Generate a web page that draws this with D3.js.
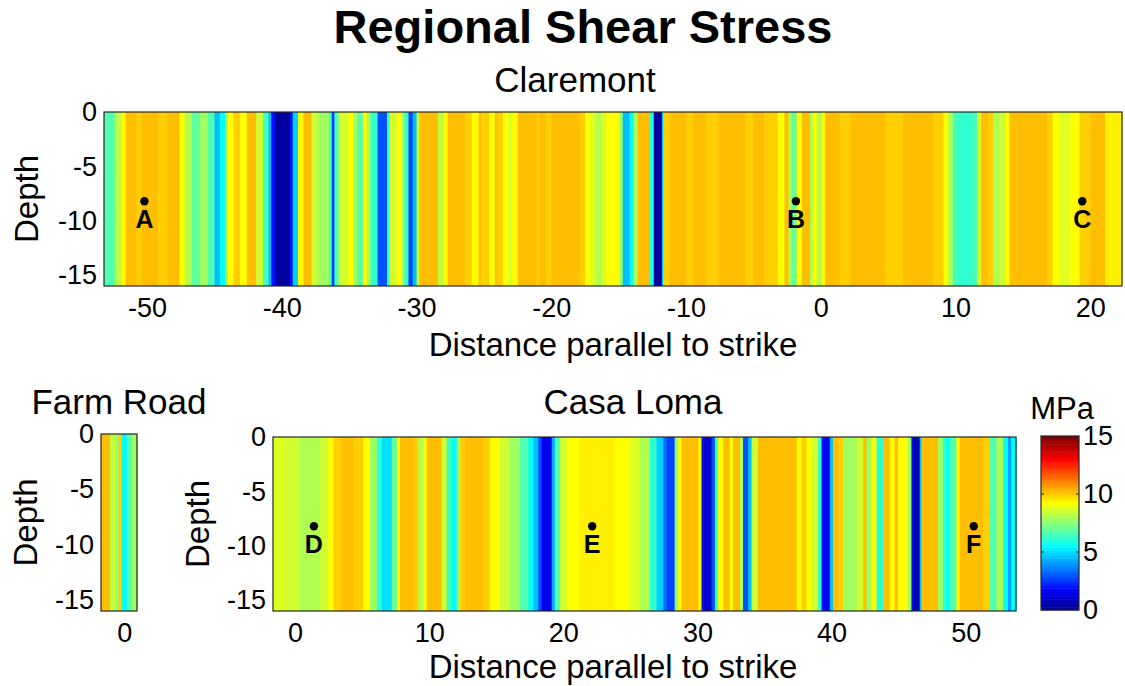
<!DOCTYPE html>
<html>
<head>
<meta charset="utf-8">
<script src="https://cdn.jsdelivr.net/npm/d3@7"></script>
<style>
  body { margin: 0; background: #fff; }
  svg { display: block; }
  text { font-family: "Liberation Sans", Arial, Helvetica, sans-serif; fill: #000; }
</style>
</head>
<body>
<svg id="chart" width="1125" height="686"></svg>
<script>
// ---- Shear stress (MPa) along strike; each stripe starts at the given distance (km) ----
const claremontExtent = [-53.2, 22.35];
const claremontStart = [
  -53.2, -52.4, -51.9, -51.6, -50.8, -50.4, -49.2, -48.5, -47.6, -47.2,
  -46.7, -46.1, -45.5, -45.0, -44.6, -44.2, -44.0, -43.6, -43.1, -42.6,
  -41.9, -41.4, -41.0, -40.8, -40.5, -39.4, -39.2, -38.8, -38.4, -37.8,
  -37.3, -36.5, -36.3, -36.1, -35.8, -35.1, -34.7, -34.4, -34.0, -33.7,
  -33.4, -32.9, -32.2, -32.0, -31.5, -31.1, -30.9, -30.6, -30.3, -30.0,
  -29.8, -28.4, -28.0, -27.7, -26.4, -25.9, -25.4, -25.2, -24.6, -24.2,
  -24.0, -23.6, -23.2, -22.9, -22.5, -21.1, -20.9, -20.4, -20.0, -17.9,
  -17.5, -17.1, -16.7, -16.3, -15.9, -14.9, -14.7, -14.2, -13.9, -13.6,
  -12.7, -12.4, -11.8, -11.7, -11.2, -10.0, -9.5, -8.5, -7.6, -5.6,
  -5.0, -4.2, -3.2, -2.7, -2.4, -2.2, -1.8, -1.4, -0.8, -0.6,
  -0.3, 0.05, 0.3, 1.4, 2.2, 4.75, 6.1, 8.3, 9.1, 9.45,
  9.8, 10.2, 11.2, 11.6, 11.9, 12.4, 12.8, 13.3, 13.7, 14.0,
  16.8, 17.2, 17.7, 18.5, 19.2, 20.0, 21.1
];
const claremontStress = [
  6.7, 8.4, 9.25, 10.2, 9.95, 10.2, 9.95, 10.2, 9.25, 8.0,
  6.8, 7.8, 6.6, 4.6, 5.6, 7.8, 9.25, 9.95, 9.25, 10.2,
  8.5, 6.5, 4.5, 2.0, 0.3, 2.0, 4.8, 9.2, 10.1, 8.6,
  7.9, 6.5, 2.8, 6.5, 8.6, 9.25, 7.9, 6.6, 9.25, 7.9,
  6.3, 3.0, 6.3, 8.6, 9.25, 7.9, 6.3, 2.8, 4.5, 8.6,
  10.2, 8.3, 9.25, 10.2, 9.95, 9.25, 10.2, 9.95, 9.25, 10.2,
  9.95, 9.25, 8.9, 9.25, 10.2, 9.95, 10.2, 9.95, 10.2, 9.95,
  9.25, 8.7, 8.2, 8.7, 9.25, 7.5, 4.6, 5.6, 8.0, 10.1,
  6.0, 0.3, 4.5, 9.95, 10.2, 9.95, 10.2, 9.95, 10.2, 9.95,
  10.2, 9.95, 9.25, 10.2, 8.0, 6.8, 9.25, 10.2, 8.0, 9.25,
  8.2, 9.25, 10.2, 9.95, 10.2, 9.95, 10.2, 9.95, 9.25, 8.0,
  6.5, 6.2, 6.5, 8.8, 10.2, 9.95, 8.0, 8.6, 9.25, 10.2,
  9.95, 9.25, 8.8, 9.25, 9.95, 10.1, 9.5
];

const farmRoadExtent = [-1.72, 0.95];
const farmRoadStart = [-1.72, -1.04, -0.67, -0.42, -0.17, 0.2, 0.57];
const farmRoadStress = [10.2, 8.3, 7.9, 9.95, 5.6, 6.7, 7.8];

const casaLomaExtent = [-1.65, 53.75];
const casaLomaStart = [
  -1.65, -0.75, 0.37, 1.86, 2.48, 2.85, 3.48, 4.35, 5.09, 5.59,
  6.09, 6.46, 7.2, 7.58, 7.82, 8.82, 9.19, 9.56, 9.81, 10.93,
  11.3, 11.68, 12.05, 12.3, 12.67, 14.03, 14.53, 15.28, 16.0, 16.77,
  17.4, 17.76, 18.13, 18.38, 19.13, 19.37, 19.75, 20.25, 21.2, 23.8,
  24.96, 25.7, 26.45, 26.95, 27.44, 27.7, 28.3, 28.56, 28.8, 30.05,
  30.3, 30.43, 31.05, 31.3, 31.54, 31.92, 32.4, 32.66, 33.16, 33.4,
  33.78, 34.03, 34.5, 37.4, 37.76, 38.13, 38.5, 39.0, 39.25, 39.37,
  39.87, 40.1, 40.5, 40.86, 41.86, 42.35, 42.6, 42.97, 43.35, 43.84,
  44.34, 44.7, 44.96, 45.7, 45.95, 46.07, 46.57, 46.7, 47.94, 48.3,
  48.56, 48.8, 49.3, 49.55, 51.29, 51.8, 52.3, 52.78, 53.15, 53.4
];
const casaLomaStress = [
  8.8, 8.5, 8.0, 8.6, 9.25, 9.95, 10.2, 9.95, 9.25, 7.9,
  6.3, 5.0, 6.8, 9.25, 10.2, 9.95, 8.0, 9.25, 10.1, 8.6,
  6.5, 5.6, 7.9, 9.95, 10.2, 9.95, 9.25, 8.6, 7.8, 6.6,
  5.6, 4.5, 3.0, 1.6, 4.3, 6.7, 8.6, 9.25, 9.5, 9.25,
  8.8, 8.0, 6.3, 4.8, 3.3, 2.8, 7.5, 9.25, 10.2, 9.6,
  2.0, 1.0, 3.0, 6.5, 9.25, 10.2, 9.25, 10.2, 8.0, 3.0,
  4.6, 8.6, 10.2, 9.25, 9.95, 9.25, 8.6, 6.3, 2.0, 1.7,
  4.5, 10.2, 9.95, 7.8, 8.6, 10.2, 7.8, 9.25, 6.3, 10.2,
  9.25, 10.2, 9.2, 7.9, 2.0, 0.5, 4.5, 10.2, 7.9, 6.3,
  5.6, 6.7, 9.25, 10.2, 9.95, 6.7, 8.2, 5.6, 4.2, 5.6
];

// Site markers (distance along strike, depth)
const claremontSites = [
  { name: "A", dist: -50.2, depth: -8.2 },
  { name: "B", dist: -1.85, depth: -8.2 },
  { name: "C", dist: 19.4, depth: -8.2 }
];
const casaLomaSites = [
  { name: "D", dist: 1.4, depth: -8.2 },
  { name: "E", dist: 22.15, depth: -8.2 },
  { name: "F", dist: 50.6, depth: -8.2 }
];

const depthExtent = [-16, 0];
const depthTicks = [0, -5, -10, -15];
const claremontTicks = [-50, -40, -30, -20, -10, 0, 10, 20];
const casaLomaTicks = [0, 10, 20, 30, 40, 50];
const farmRoadTicks = [0];
const stressExtent = [0, 15];
const stressTicks = [0, 5, 10, 15];

// ---- MATLAB-style jet colormap, 64 levels ----
function jet(m) {
  const n = Math.ceil(m / 4);
  const u = [];
  for (let i = 1; i <= n; i++) u.push(i / n);
  for (let i = 1; i < n; i++) u.push(1);
  for (let i = n; i >= 1; i--) u.push(i / n);
  const g0 = Math.ceil(n / 2) - (m % 4 === 1 ? 1 : 0);
  const rgb = Array.from({ length: m }, () => [0, 0, 0]);
  u.forEach((val, k) => {
    const gi = g0 + k + 1, ri = gi + n, bi = gi - n;
    if (ri >= 1 && ri <= m) rgb[ri - 1][0] = val;
    if (gi >= 1 && gi <= m) rgb[gi - 1][1] = val;
    if (bi >= 1 && bi <= m) rgb[bi - 1][2] = val;
  });
  return rgb.map(c => d3.rgb(Math.round(c[0] * 255), Math.round(c[1] * 255), Math.round(c[2] * 255)).formatHex());
}
const jetColors = jet(64);
const color = d3.scaleQuantize().domain(stressExtent).range(jetColors);

const svg = d3.select("#chart");
const FONT_TICK = 27;
const FONT_LABEL = 33;
const FONT_TITLE = 35;

function styleAxis(g) {
  g.select(".domain").remove();
  g.selectAll("text")
    .attr("font-size", FONT_TICK)
    .attr("font-family", "'Liberation Sans', Arial, sans-serif")
    .attr("fill", "#000");
}

function drawPanel(o) {
  const g = svg.append("g");
  const x = d3.scaleLinear().domain(o.extent).range([o.left, o.right]);
  const y = d3.scaleLinear().domain(depthExtent).range([o.bottom, o.top]);

  const stripes = o.starts.map((s, i) => ({
    x0: s,
    x1: i < o.starts.length - 1 ? o.starts[i + 1] : o.extent[1],
    v: o.stress[i]
  }));

  g.selectAll("rect.stripe").data(stripes).join("rect")
    .attr("class", "stripe")
    .attr("x", d => x(d.x0))
    .attr("width", d => Math.max(0, x(d.x1) - x(d.x0)) + 0.6)
    .attr("y", y(0))
    .attr("height", y(depthExtent[0]) - y(0))
    .attr("fill", d => color(d.v));

  // axes frame
  g.append("rect")
    .attr("x", o.left).attr("y", o.top)
    .attr("width", o.right - o.left).attr("height", o.bottom - o.top)
    .attr("fill", "none").attr("stroke", "#262626").attr("stroke-width", 1.2);

  g.append("g")
    .attr("transform", `translate(0,${o.bottom})`)
    .call(d3.axisBottom(x).tickValues(o.xticks).tickSize(0).tickPadding(12).tickFormat(d => String(d)))
    .call(styleAxis);

  g.append("g")
    .attr("transform", `translate(${o.left},0)`)
    .call(d3.axisLeft(y).tickValues(depthTicks).tickSize(0).tickPadding(7).tickFormat(d => String(d)))
    .call(styleAxis);

  // panel title
  g.append("text")
    .attr("x", o.titleX).attr("y", o.titleY)
    .attr("text-anchor", "middle").attr("font-size", FONT_TITLE)
    .text(o.title);

  // depth label
  g.append("text")
    .attr("transform", `translate(${o.depthX},${(o.top + o.bottom) / 2}) rotate(-90)`)
    .attr("text-anchor", "middle").attr("font-size", FONT_LABEL)
    .text("Depth");

  if (o.xlabel) {
    g.append("text")
      .attr("x", o.xlabelX).attr("y", o.xlabelY)
      .attr("text-anchor", "middle").attr("font-size", FONT_LABEL)
      .text(o.xlabel);
  }

  if (o.sites) {
    const s = g.selectAll("g.site").data(o.sites).join("g").attr("class", "site");
    s.append("circle")
      .attr("cx", d => x(d.dist)).attr("cy", d => y(d.depth))
      .attr("r", 4.2).attr("fill", "#000");
    s.append("text")
      .attr("x", d => x(d.dist)).attr("y", d => y(d.depth) + 27)
      .attr("text-anchor", "middle").attr("font-size", 25).attr("font-weight", "bold")
      .text(d => d.name);
  }
}

// Chart title
svg.append("text")
  .attr("x", 583).attr("y", 43)
  .attr("text-anchor", "middle").attr("font-size", 47).attr("font-weight", "bold")
  .text("Regional Shear Stress");

drawPanel({
  title: "Claremont", titleX: 575, titleY: 92,
  extent: claremontExtent, starts: claremontStart, stress: claremontStress,
  xticks: claremontTicks, sites: claremontSites,
  left: 104, right: 1122, top: 112, bottom: 286,
  depthX: 38, xlabel: "Distance parallel to strike", xlabelX: 613, xlabelY: 356
});

drawPanel({
  title: "Farm Road", titleX: 119, titleY: 414,
  extent: farmRoadExtent, starts: farmRoadStart, stress: farmRoadStress,
  xticks: farmRoadTicks,
  left: 101, right: 137, top: 434, bottom: 611,
  depthX: 37
});

drawPanel({
  title: "Casa Loma", titleX: 633, titleY: 414,
  extent: casaLomaExtent, starts: casaLomaStart, stress: casaLomaStress,
  xticks: casaLomaTicks, sites: casaLomaSites,
  left: 273, right: 1016, top: 437, bottom: 611,
  depthX: 209, xlabel: "Distance parallel to strike", xlabelX: 613, xlabelY: 678
});

// ---- Colorbar ----
(function colorbar() {
  const cb = { left: 1041, right: 1079, top: 436, bottom: 610 };
  const g = svg.append("g");
  const y = d3.scaleLinear().domain(stressExtent).range([cb.bottom, cb.top]);
  const levels = d3.range(jetColors.length);
  const step = (stressExtent[1] - stressExtent[0]) / jetColors.length;
  g.selectAll("rect.level").data(levels).join("rect")
    .attr("class", "level")
    .attr("x", cb.left).attr("width", cb.right - cb.left)
    .attr("y", i => y((i + 1) * step))
    .attr("height", i => y(i * step) - y((i + 1) * step) + 0.5)
    .attr("fill", i => jetColors[i]);
  g.append("rect")
    .attr("x", cb.left).attr("y", cb.top)
    .attr("width", cb.right - cb.left).attr("height", cb.bottom - cb.top)
    .attr("fill", "none").attr("stroke", "#262626").attr("stroke-width", 1.2);
  // small inner ticks on both edges
  g.selectAll("line.tl").data(stressTicks.slice(1, -1)).join("line")
    .attr("x1", cb.left).attr("x2", cb.left + 3)
    .attr("y1", d => y(d)).attr("y2", d => y(d)).attr("stroke", "#262626");
  g.selectAll("line.tr").data(stressTicks.slice(1, -1)).join("line")
    .attr("x1", cb.right - 3).attr("x2", cb.right)
    .attr("y1", d => y(d)).attr("y2", d => y(d)).attr("stroke", "#262626");
  g.append("g")
    .attr("transform", `translate(${cb.right},0)`)
    .call(d3.axisRight(y).tickValues(stressTicks).tickSize(0).tickPadding(4).tickFormat(d => String(d)))
    .call(styleAxis);
  g.append("text")
    .attr("x", 1062).attr("y", 419)
    .attr("text-anchor", "middle").attr("font-size", 31)
    .text("MPa");
})();
</script>
</body>
</html>
